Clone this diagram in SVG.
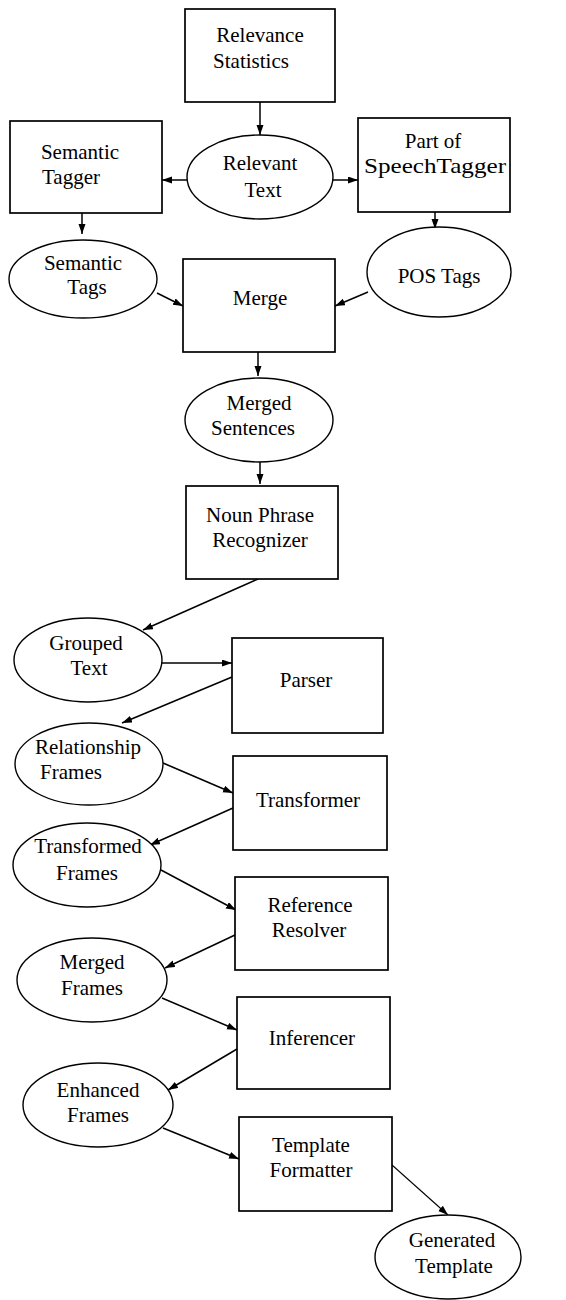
<svg xmlns="http://www.w3.org/2000/svg" width="566" height="1300" viewBox="0 0 566 1300">
<style>
.box{fill:#fff;stroke:#000;stroke-width:1.7}
.ell{fill:#fff;stroke:#000;stroke-width:1.4}
.t{font-family:"Liberation Serif","Times New Roman",serif;font-size:21px;fill:#000;text-anchor:middle}
.c{stroke:#000;stroke-width:1.5;fill:none;marker-end:url(#ah)}
</style>
<defs>
<marker id="ah" markerUnits="userSpaceOnUse" markerWidth="11" markerHeight="8" refX="10" refY="3.5" orient="auto">
<path d="M0,0 L10,3.5 L0,7 z" fill="#000"/>
</marker>
</defs>
<rect width="566" height="1300" fill="#fff"/>
<g id="connectors">
<line class="c" x1="260" y1="102" x2="260" y2="135"/>
<line class="c" x1="187" y1="180" x2="162" y2="180"/>
<line class="c" x1="333" y1="180" x2="358" y2="180"/>
<line class="c" x1="82" y1="213" x2="82" y2="234"/>
<line class="c" x1="435" y1="212" x2="435" y2="229"/>
<line class="c" x1="157" y1="293" x2="183" y2="306"/>
<line class="c" x1="368" y1="292" x2="335" y2="306"/>
<line class="c" x1="258" y1="352" x2="258" y2="376"/>
<line class="c" x1="260" y1="462" x2="260" y2="484"/>
<line class="c" x1="258" y1="579" x2="143" y2="630"/>
<line class="c" x1="162" y1="663" x2="232" y2="663"/>
<line class="c" x1="232" y1="677" x2="122" y2="723"/>
<line class="c" x1="163" y1="763" x2="233" y2="793"/>
<line class="c" x1="233" y1="808" x2="150" y2="845"/>
<line class="c" x1="161" y1="870" x2="236" y2="910"/>
<line class="c" x1="235" y1="935" x2="165" y2="968"/>
<line class="c" x1="162" y1="998" x2="237" y2="1030"/>
<line class="c" x1="237" y1="1049" x2="168" y2="1090"/>
<line class="c" x1="163" y1="1128" x2="239" y2="1159"/>
<line class="c" x1="392" y1="1165" x2="448" y2="1215" style="stroke-width:1.1"/>
</g>
<g id="relevance-statistics">
<rect class="box" x="185" y="9" width="150" height="93"/>
<text class="t" x="260" y="42">Relevance</text>
<text class="t" x="251" y="68">Statistics</text>
</g>
<g id="semantic-tagger">
<rect class="box" x="10" y="121" width="152" height="92"/>
<text class="t" x="80" y="159">Semantic</text>
<text class="t" x="71" y="184">Tagger</text>
</g>
<g id="relevant-text">
<ellipse class="ell" cx="260" cy="177" rx="73" ry="42"/>
<text class="t" x="260" y="170">Relevant</text>
<text class="t" x="263" y="197">Text</text>
</g>
<g id="part-of-speech-tagger">
<rect class="box" x="358" y="118" width="152" height="94"/>
<text class="t" x="433" y="148">Part of</text>
<text class="t" x="435" y="173" textLength="142" lengthAdjust="spacingAndGlyphs">SpeechTagger</text>
</g>
<g id="semantic-tags">
<ellipse class="ell" cx="83" cy="279" rx="74" ry="39"/>
<text class="t" x="83" y="270">Semantic</text>
<text class="t" x="87" y="294">Tags</text>
</g>
<g id="merge">
<rect class="box" x="183" y="259" width="152" height="93"/>
<text class="t" x="260" y="305">Merge</text>
</g>
<g id="pos-tags">
<ellipse class="ell" cx="439" cy="272" rx="72" ry="45"/>
<text class="t" x="439" y="283">POS Tags</text>
</g>
<g id="merged-sentences">
<ellipse class="ell" cx="259" cy="420" rx="74" ry="42"/>
<text class="t" x="259" y="410">Merged</text>
<text class="t" x="253" y="435">Sentences</text>
</g>
<g id="noun-phrase-recognizer">
<rect class="box" x="186" y="486" width="152" height="93"/>
<text class="t" x="260" y="522">Noun Phrase</text>
<text class="t" x="260" y="547">Recognizer</text>
</g>
<g id="grouped-text">
<ellipse class="ell" cx="88" cy="660" rx="74" ry="42"/>
<text class="t" x="86" y="650">Grouped</text>
<text class="t" x="89" y="675">Text</text>
</g>
<g id="parser">
<rect class="box" x="232" y="638" width="151" height="95"/>
<text class="t" x="306" y="687">Parser</text>
</g>
<g id="relationship-frames">
<ellipse class="ell" cx="89" cy="764" rx="74" ry="41"/>
<text class="t" x="88" y="754">Relationship</text>
<text class="t" x="71" y="779">Frames</text>
</g>
<g id="transformer">
<rect class="box" x="233" y="756" width="154" height="94"/>
<text class="t" x="308" y="807">Transformer</text>
</g>
<g id="transformed-frames">
<ellipse class="ell" cx="87" cy="865" rx="74" ry="42"/>
<text class="t" x="88" y="853">Transformed</text>
<text class="t" x="87" y="880">Frames</text>
</g>
<g id="reference-resolver">
<rect class="box" x="235" y="877" width="153" height="93"/>
<text class="t" x="310" y="912">Reference</text>
<text class="t" x="309" y="937">Resolver</text>
</g>
<g id="merged-frames">
<ellipse class="ell" cx="92" cy="980" rx="75" ry="42"/>
<text class="t" x="92" y="969">Merged</text>
<text class="t" x="92" y="995">Frames</text>
</g>
<g id="inferencer">
<rect class="box" x="237" y="997" width="153" height="92"/>
<text class="t" x="312" y="1045">Inferencer</text>
</g>
<g id="enhanced-frames">
<ellipse class="ell" cx="98" cy="1105" rx="75" ry="42"/>
<text class="t" x="98" y="1097">Enhanced</text>
<text class="t" x="98" y="1122">Frames</text>
</g>
<g id="template-formatter">
<rect class="box" x="239" y="1117" width="153" height="94"/>
<text class="t" x="311" y="1152">Template</text>
<text class="t" x="311" y="1177">Formatter</text>
</g>
<g id="generated-template">
<ellipse class="ell" cx="448" cy="1257" rx="73" ry="42"/>
<text class="t" x="452" y="1247">Generated</text>
<text class="t" x="454" y="1273">Template</text>
</g>
</svg>
